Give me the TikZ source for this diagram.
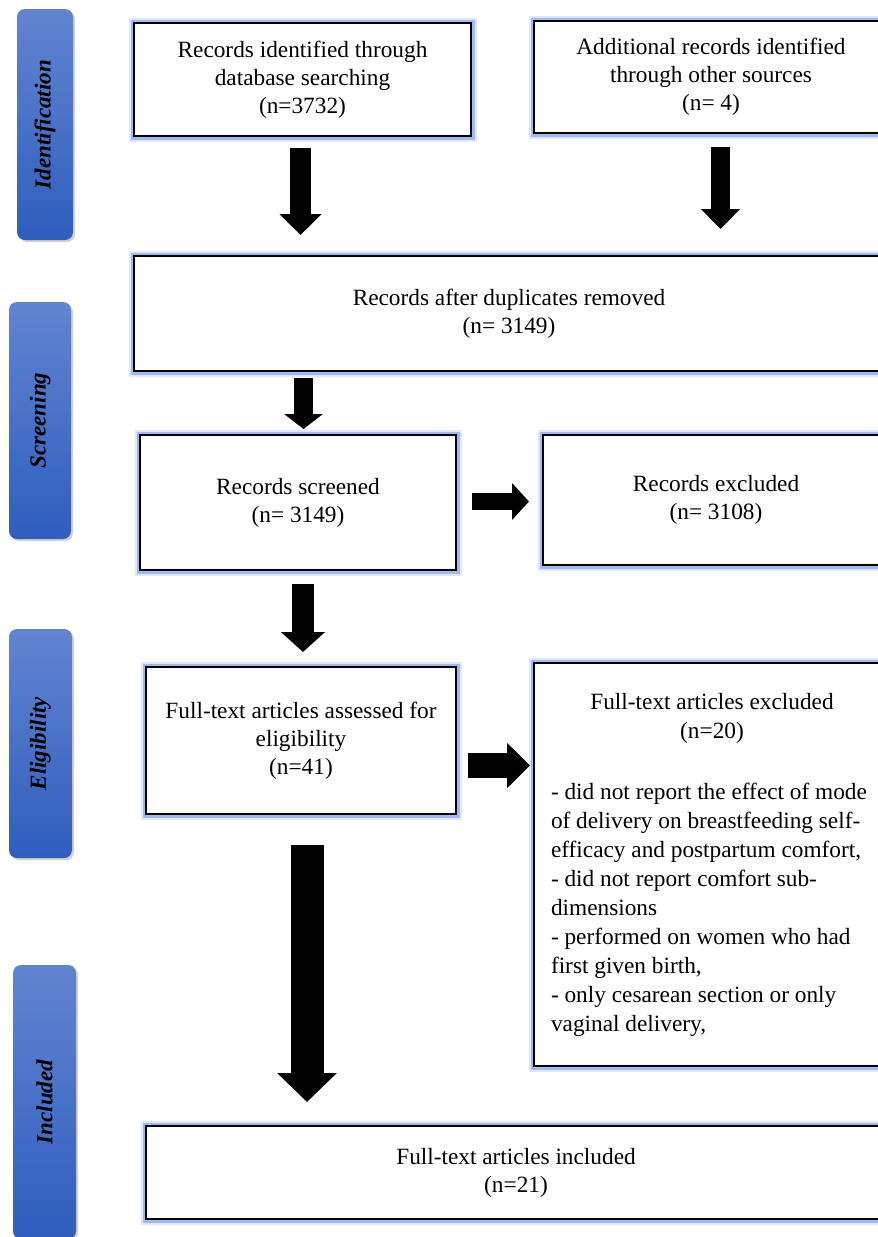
\documentclass[tikz,border=0pt]{standalone}
\usepackage{fontspec}
\setmainfont{Liberation Serif}
\usetikzlibrary{arrows.meta,shadows}
\definecolor{glowblue}{RGB}{110,150,235}
\definecolor{stagetop}{RGB}{98,132,208}
\definecolor{stagebot}{RGB}{46,94,190}
\tikzset{
  flowbox/.style={draw=black, line width=2pt, fill=white, rectangle, inner sep=0pt, anchor=north west,
    align=center, font=\fontsize{23.3}{28}\selectfont,
    preaction={draw=glowblue, line width=11pt, opacity=0.22},
    preaction={draw=glowblue, line width=7pt, opacity=0.55}},
  stagebox/.style={rectangle, rounded corners=8pt, top color=stagetop, bottom color=stagebot, draw=none,
    inner sep=0pt, drop shadow={shadow xshift=2pt, shadow yshift=-2pt, opacity=0.3, fill=black!60}},
  stagetext/.style={rotate=90, font=\fontsize{23}{28}\selectfont\bfseries\itshape, text=black, inner sep=0pt},
  blockarrow/.style={draw=black, line cap=butt}
}
\begin{document}
\begin{tikzpicture}[x=1pt, y=-1pt]
\useasboundingbox (0,0) rectangle (878,1237);
\clip (0,0) rectangle (878,1237);
\fill[white] (0,0) rectangle (878,1237);

% stage labels
\node[stagebox, minimum width=56pt, minimum height=231pt] (s1) at (45,124.5) {};
\node[stagetext] (s1t) at (s1) {Identification};
\node[stagebox, minimum width=62pt, minimum height=237pt] (s2) at (40,420.5) {};
\node[stagetext] (s2t) at (s2) {Screening};
\node[stagebox, minimum width=63pt, minimum height=229pt] (s3) at (40.5,743.5) {};
\node[stagetext] (s3t) at (s3) {Eligibility};
\node[stagebox, minimum width=63pt, minimum height=274pt] (s4) at (44.5,1102) {};
\node[stagetext] (s4t) at (s4) {Included};

% boxes
\node[flowbox, minimum width=337pt, minimum height=113pt] (b1) at (133,22)
  {Records identified through\\database searching\\(n=3732)};
\node[flowbox, minimum width=354pt, minimum height=112pt] (b2) at (533,20)
  {Additional records identified\\through other sources\\(n= 4)};
\node[flowbox, minimum width=750pt, minimum height=115pt] (b3) at (133,255)
  {Records after duplicates removed\\(n= 3149)};
\node[flowbox, minimum width=316pt, minimum height=135pt] (b4) at (139,434)
  {Records screened\\(n= 3149)};
\node[flowbox, minimum width=346pt, minimum height=130pt] (b5) at (542,434)
  {Records excluded\\(n= 3108)};
\node[flowbox, minimum width=310pt, minimum height=147pt] (b6) at (145,666)
  {Full-text articles assessed for\\eligibility\\(n=41)};
\node[flowbox, minimum width=356pt, minimum height=403pt] (b7) at (533,662)
  {\parbox{322pt}{\fontsize{23.3}{29}\selectfont\centering Full-text articles excluded\\(n=20)\par\vspace{32pt}\raggedright
  - did not report the effect of mode\\
  of delivery on breastfeeding self-\\
  efficacy and postpartum comfort,\\
  - did not report comfort sub-\\
  dimensions\\
  - performed on women who had\\
  first given birth,\\
  - only cesarean section or only\\
  vaginal delivery,}};
\node[flowbox, minimum width=740pt, minimum height=93pt] (b8) at (145,1125)
  {Full-text articles included\\(n=21)};

% arrow end points
\coordinate (a1s) at (300.5,148); \coordinate (a1e) at (300.5,235);
\coordinate (a2s) at (720.5,147); \coordinate (a2e) at (720.5,229);
\coordinate (a3s) at (303.5,378); \coordinate (a3e) at (303.5,429);
\coordinate (a4s) at (472,501.5); \coordinate (a4e) at (529,501.5);
\coordinate (a5s) at (303,584);   \coordinate (a5e) at (303,652);
\coordinate (a6s) at (468,765.5); \coordinate (a6e) at (530,765.5);
\coordinate (a7s) at (307,845);   \coordinate (a7e) at (307,1102);

\draw[blockarrow, line width=21pt, -{Triangle[length=21pt 0, width=41pt 0]}] (a1s) -- (a1e);
\draw[blockarrow, line width=19pt, -{Triangle[length=20pt 0, width=38pt 0]}] (a2s) -- (a2e);
\draw[blockarrow, line width=19pt, -{Triangle[length=15pt 0, width=38pt 0]}] (a3s) -- (a3e);
\draw[blockarrow, line width=17pt, -{Triangle[length=17pt 0, width=36pt 0]}] (a4s) -- (a4e);
\draw[blockarrow, line width=22pt, -{Triangle[length=20pt 0, width=43pt 0]}] (a5s) -- (a5e);
\draw[blockarrow, line width=25pt, -{Triangle[length=23pt 0, width=44pt 0]}] (a6s) -- (a6e);
\draw[blockarrow, line width=33pt, -{Triangle[length=29pt 0, width=58pt 0]}] (a7s) -- (a7e);
\end{tikzpicture}
\end{document}
